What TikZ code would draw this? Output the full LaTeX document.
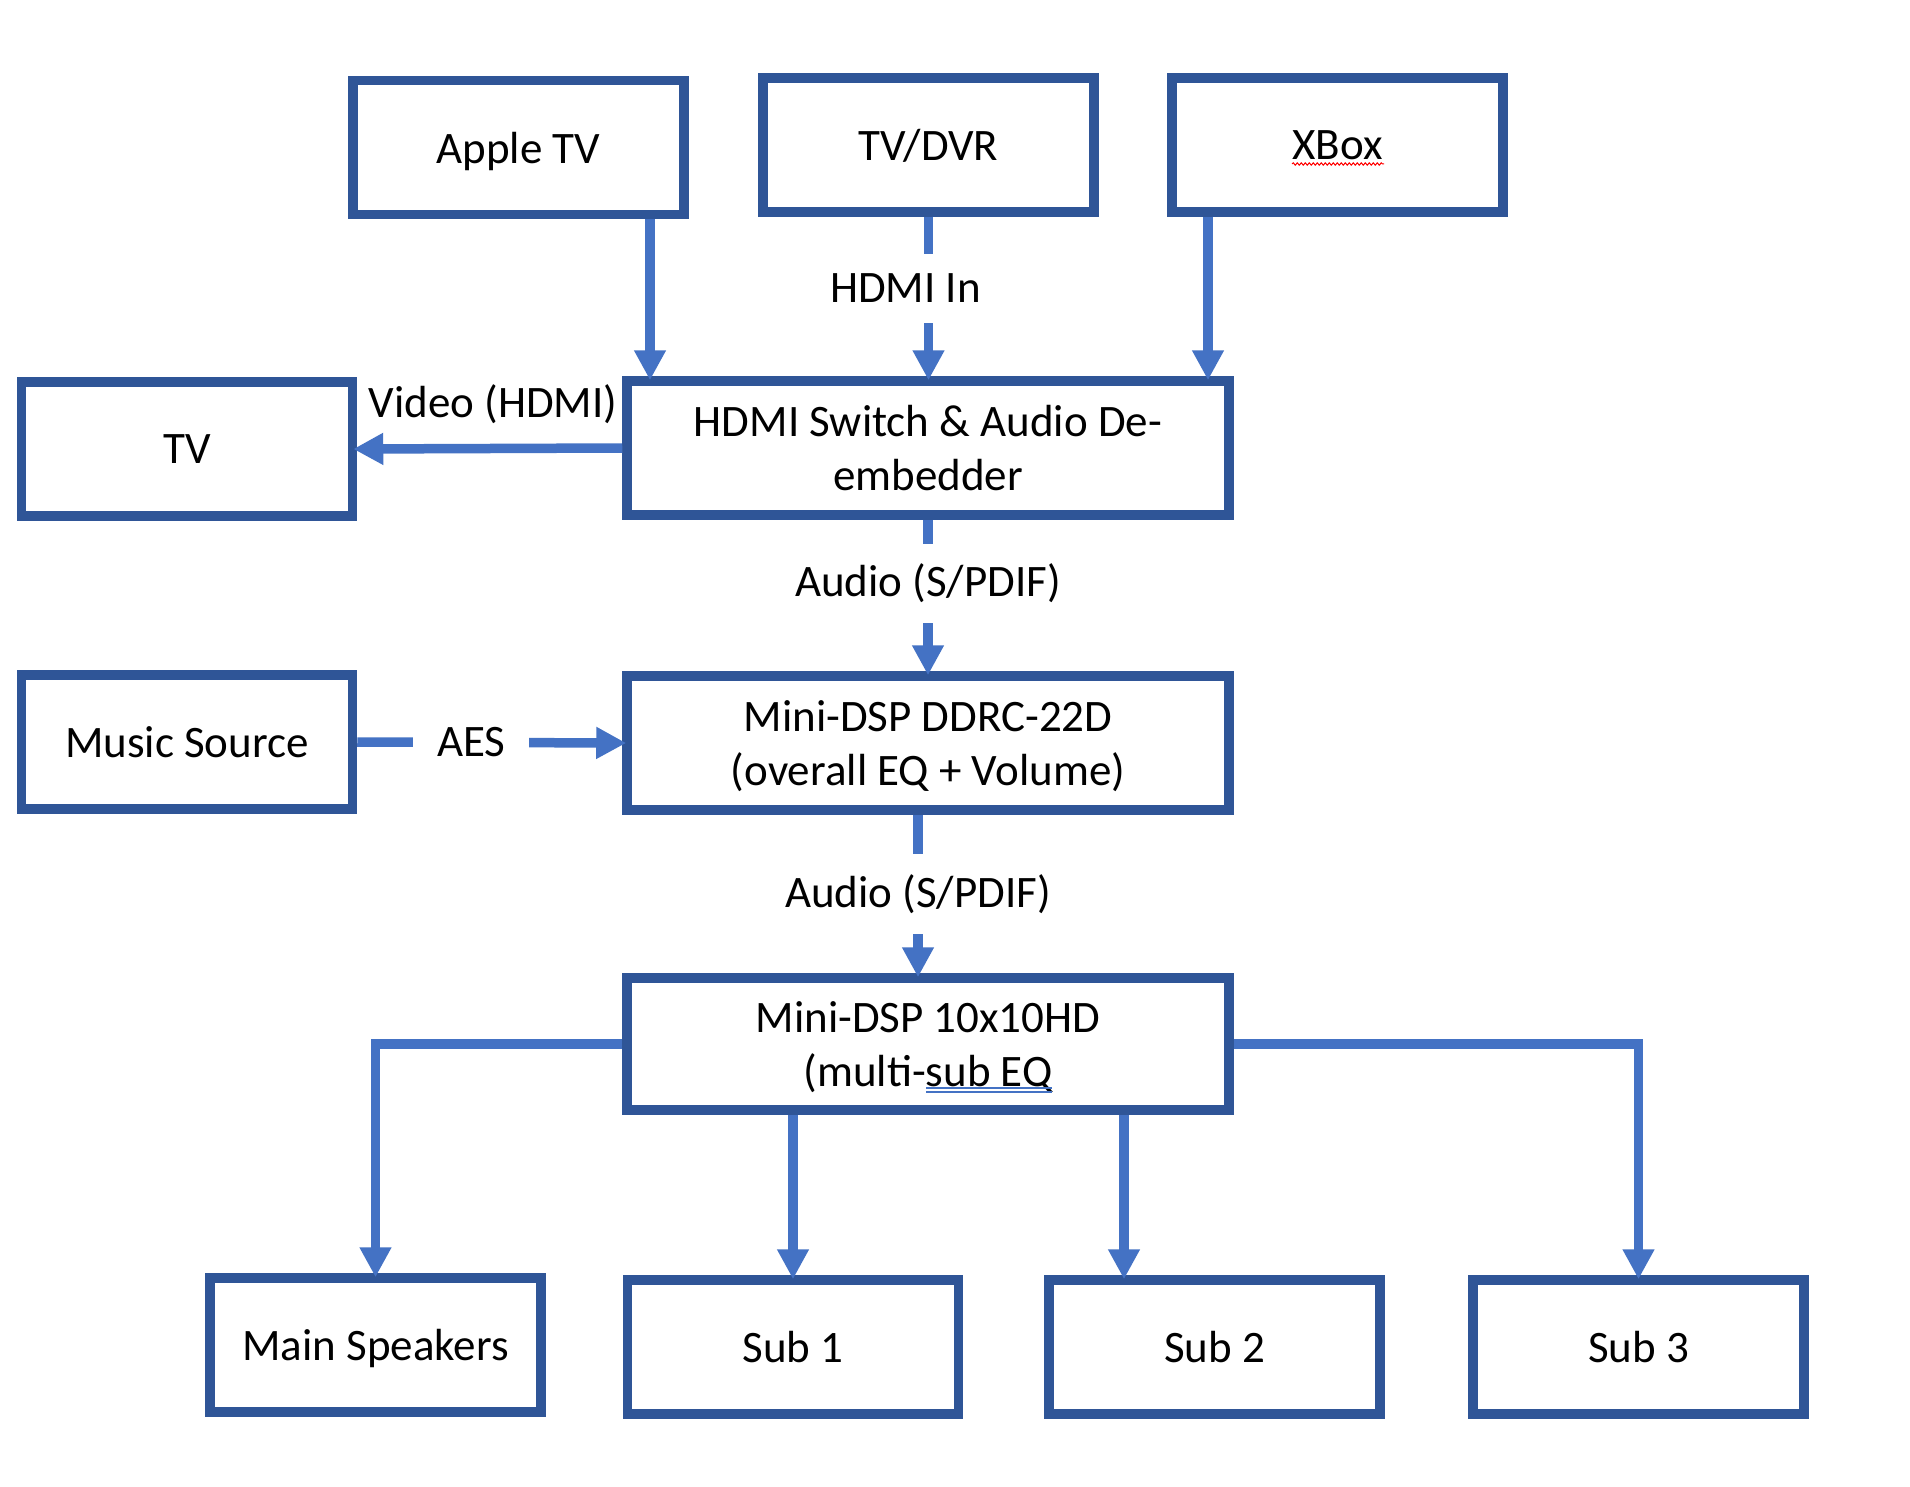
\documentclass[tikz,border=0pt]{standalone}
\usepackage{fontspec}
\setmainfont{Carlito}
\usetikzlibrary{arrows.meta,calc,decorations.pathmorphing}
\definecolor{boxblue}{HTML}{2F5597}
\definecolor{linkblue}{HTML}{4472C4}
\begin{document}
\begin{tikzpicture}[x=1pt,y=-1pt,
  box/.style={draw=boxblue,line width=9.5pt,minimum width=331pt,minimum height=134pt,
    align=center,inner sep=0pt,text depth=0pt,font=\fontsize{45}{54}\selectfont},
  widebox/.style={box,minimum width=602pt},
  link/.style={draw=linkblue,line width=9.5pt,-{Triangle[length=30pt,width=30pt]},shorten >=-4pt},
  lbl/.style={font=\fontsize{45}{54}\selectfont,fill=white,inner xsep=24pt,inner ysep=20pt},
  plainlbl/.style={font=\fontsize{45}{54}\selectfont,inner sep=0pt}]
\useasboundingbox (0,0) rectangle (1910,1487);
\fill[white] (0,0) rectangle (1910,1487);
% boxes
\node[box] (apple) at (518.5,147.5) {Apple TV};
\node[box] (tvdvr) at (928.5,145) {TV/DVR};
\node[box] (xbox) at (1337.5,145) {XBox};
\node[box] (tv) at (187,449) {TV};
\node[widebox] (hdmi) at (928,448) {HDMI Switch \& Audio De-\\embedder};
\node[box] (music) at (187,742) {Music Source};
\node[widebox] (ddrc) at (928,743) {Mini-DSP DDRC-22D\\(overall EQ + Volume)};
\node[widebox,minimum height=132pt] (ten) at (928,1044) {Mini-DSP 10x10HD\\(multi-sub EQ};
\node[box] (main) at (375.5,1345) {Main Speakers};
\node[box] (sub1) at (793,1347) {Sub 1};
\node[box] (sub2) at (1214.5,1347) {Sub 2};
\node[box] (sub3) at (1638.5,1347) {Sub 3};
% x positions of connectors
\coordinate (xa) at (650,0);
\coordinate (xx) at (1208,0);
\coordinate (xd) at (918,0);
\coordinate (xs2) at (1124,0);
% connectors
\draw[link] (apple.south -| xa) -- (hdmi.north -| xa);
\draw[link] (tvdvr.south) -- node[lbl,pos=0.45,xshift=-23pt] (lhdmiin) {HDMI In} (tvdvr.south |- hdmi.north);
\draw[link] (xbox.south -| xx) -- (hdmi.north -| xx);
\draw[link] (hdmi.west) -- (tv.east);
\node[plainlbl] (lvideo) at (493,404) {Video (HDMI)};
\draw[link] (hdmi.south) -- node[lbl,pos=0.42] (laudio1) {Audio (S/PDIF)} (ddrc.north);
\draw[link] (music.east) -- node[lbl,pos=0.43] (laes) {AES} (ddrc.west);
\draw[link] (ddrc.south -| xd) -- node[lbl,pos=0.5] (laudio2) {Audio (S/PDIF)} (ten.north -| xd);
\draw[link] (ten.west) -| (main.north);
\draw[link] (ten.south -| sub1) -- (sub1.north);
\draw[link] (ten.south -| xs2) -- (sub2.north -| xs2);
\draw[link] (ten.east) -| (sub3.north);
% spell-check marks as shown
\draw[red,line width=1pt,decorate,decoration={snake,amplitude=1.2pt,segment length=4pt}] (1292,164) -- (1384,164);
\draw[linkblue,line width=1.2pt] (926,1088) -- (1052,1088) (926,1092) -- (1052,1092);
\end{tikzpicture}
\end{document}
